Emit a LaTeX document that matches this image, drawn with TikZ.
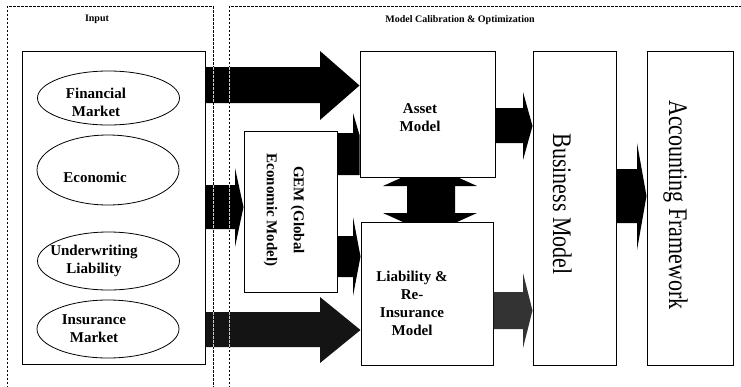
\documentclass[tikz,border=0pt]{standalone}
\usepackage{fontspec}
\setmainfont{Liberation Serif}
\usetikzlibrary{shapes.geometric,calc}
\tikzset{
  frame/.style={line width=0.8pt, dash pattern=on 2.5pt off 1.5pt},
  box/.style={draw, line width=1pt, fill=white, inner sep=0pt},
  oval/.style={draw, ellipse, line width=0.8pt, minimum width=142pt, inner sep=0pt},
  lbl/.style={font=\fontsize{15}{18}\selectfont\bfseries, align=center, inner sep=0pt},
  big/.style={font=\fontsize{22}{26}\selectfont, rotate=-90, anchor=base, inner sep=0pt},
  head/.style={font=\fontsize{10}{12}\selectfont\bfseries, inner sep=0pt},
}
% #1 fill, #2 from node, #3 to node, #4 head base x, #5 shaft top, #6 shaft bottom, #7 head top, #8 head bottom, #9 tip y
\newcommand\barrow[9][black]{%
  \fill[#1] (#2.east |- 0,#5) -- (#4,#5) -- (#4,#7) -- (#3.west |- 0,#9) -- (#4,#8) -- (#4,#6) -- (#2.east |- 0,#6) -- cycle;}
\begin{document}
\begin{tikzpicture}[x=1pt,y=-1pt]
\clip (0,0) rectangle (741,386);
\fill[white] (0,0) rectangle (741,386);
% dashed frames
\draw[frame] (7,400) -- (7,6) -- (213,6) -- (213,400);
\draw[frame] (229,400) -- (229,6) -- (750,6);
\node[head] (hin) at (97,19) {Input};
\node[head] (hmc) at (460,20) {Model Calibration \& Optimization};
% boxes
\node[box, minimum width=183pt, minimum height=313pt] (input) at (113.5,207.5) {};
\node[box, minimum width=93pt, minimum height=161pt] (gem) at (290.5,211.5) {};
\node[box, minimum width=135pt, minimum height=126pt] (asset) at (427.5,114) {};
\node[box, minimum width=132pt, minimum height=143pt] (liab) at (427,293.5) {};
\node[box, minimum width=83pt, minimum height=314pt] (bus) at (574.5,208) {};
\node[box, minimum width=86pt, minimum height=314pt] (acc) at (690,208) {};
% ellipses
\node[oval, minimum height=54pt] (fin) at (108.5,98) {};
\node[oval, minimum height=70pt] (eco) at (108,170) {};
\node[oval, minimum height=58pt] (und) at (108.5,261) {};
\node[oval, minimum height=58pt] (ins) at (108,329) {};
\node[lbl] (fint) at (96,102) {Financial\\Market};
\node[lbl] (ecot) at (95,177) {Economic};
\node[lbl] (undt) at (94,261) {Underwriting\\Liability};
\node[lbl] (inst) at (94,329) {Insurance\\Market};
% box texts
\node[lbl] (assett) at (420,118) {Asset\\Model};
\node[lbl] (liabt) at (412,303) {Liability \&\\Re-\\Insurance\\Model};
\node[lbl, font=\fontsize{15}{27}\selectfont\bfseries, rotate=-90] (gemt) at (284,210) {GEM (Global\\Economic Model)};
\node[big] (bust) at (553,204) {\scalebox{1}[1.22]{Business Model}};
\node[big] (acct) at (669,205) {\scalebox{1}[1.22]{Accounting Framework}};
% block arrows
\barrow{input}{asset}{320}{67}{103}{51}{120}{85.5}
\barrow{input}{gem}{235}{185}{229}{168}{247}{207}
\fill[black] (gem.east |- 0,133) -- (353,133) -- (353,113) -- (asset.west |- 0,135) -- (asset.west |- 0,175) -- (gem.east |- 0,175) -- cycle;
\barrow{gem}{liab}{353}{236}{277}{217}{296}{256.5}
\barrow[black!92]{input}{liab}{320}{312}{347}{297}{363}{330}
\fill[black] (407,186) -- (383,186) -- (403,177) -- (457,177) -- (477,186) -- (455,186) -- (455,213) -- (477,213) -- (457,222) -- (403,222) -- (383,213) -- (407,213) -- cycle;
\barrow{asset}{bus}{523}{108}{143}{92}{160}{126}
\barrow[black!80]{liab}{bus}{523}{292}{329}{273}{348}{310.5}
\barrow{bus}{acc}{637}{169}{223}{143}{250}{196}
% frame lines showing through the arrows
\foreach \xx in {213,229}{
  \draw[frame, white!80!black, line width=0.6pt] (\xx,67) -- (\xx,103);
  \draw[frame, white!80!black, line width=0.6pt] (\xx,185) -- (\xx,229);
  \draw[frame, white!80!black, line width=0.6pt] (\xx,312) -- (\xx,347);
}
\end{tikzpicture}
\end{document}
